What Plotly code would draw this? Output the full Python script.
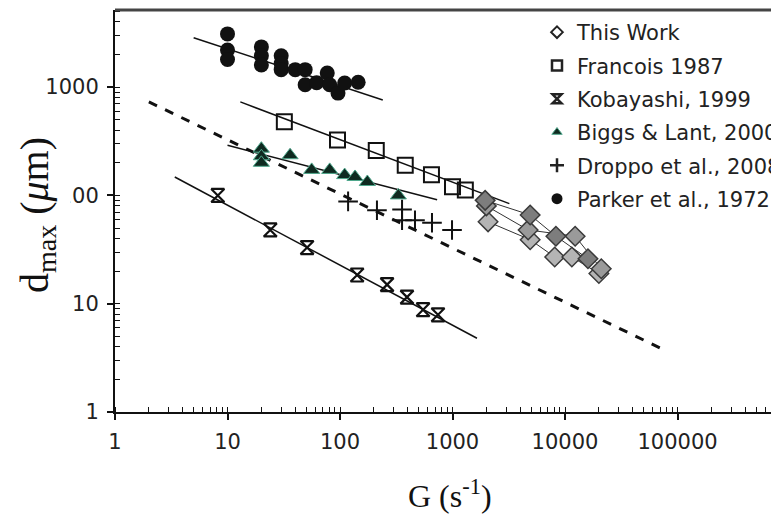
import plotly.graph_objects as go

# ---------------- data ----------------
# This Work (three runs)
work1_G = [1950, 4900, 8300, 16000]
work1_d = [90, 66, 42, 26]
work2_G = [2000, 4700, 12300, 21000]
work2_d = [80, 48, 42, 21]
work3_G = [2070, 4900, 8100, 11500, 20000]
work3_d = [57, 39, 27, 27, 19]

# Francois 1987
francois_G = [32, 95, 210, 380, 650, 1000, 1300]
francois_d = [480, 325, 260, 190, 155, 120, 112]
francois_fit_G = [13, 3200]
francois_fit_d = [730, 84]

# Kobayashi, 1999
koba_G = [8.2, 24, 51, 142, 262, 394, 547, 743]
koba_d = [100, 48, 33, 18.4, 15, 11.5, 8.8, 7.9]
koba_fit_G = [3.4, 1650]
koba_fit_d = [148, 4.8]

# Biggs & Lant, 2000
biggs_G = [20, 20, 20, 36, 56, 81, 110, 136, 175, 330]
biggs_d = [270, 230, 200, 235, 172, 172, 154, 148, 133, 100]
biggs_fit_G = [10, 730]
biggs_fit_d = [290, 91]

# Droppo et al., 2008
droppo_G = [118, 213, 356, 356, 464, 657, 990]
droppo_d = [88, 73, 74, 59, 59, 56, 48]

# Parker et al., 1972
parker_G = [10, 10, 10, 20, 20, 20, 30, 30, 30, 40, 49, 49, 62, 77, 81, 96, 110, 145]
parker_d = [3100, 2200, 1800, 2350, 1950, 1600, 1950, 1650, 1450, 1450, 1450, 1050,
            1100, 1350, 1050, 880, 1090, 1110]
parker_fit_G = [5, 240]
parker_fit_d = [2860, 760]

# general (dashed) trend line
trend_G = [2, 80000]
trend_d = [730, 3.65]

legend_names = ["This Work", "Francois 1987", "Kobayashi, 1999",
                "Biggs & Lant, 2000", "Droppo et al., 2008", "Parker et al., 1972"]

x_tickvals = [1, 10, 100, 1000, 10000, 100000]
y_tickvals = [1, 10, 100, 1000]

# ---------------- layout geometry (page pixels) ----------------
BODY = 8                 # default page margin around the plot div
PLOT_L, PLOT_R = 115, 779
PLOT_T, PLOT_B = 10, 412
FIG_W, FIG_H = 787, 508
ml = PLOT_L - BODY
mt = PLOT_T - BODY
mr = FIG_W - (PLOT_R - BODY)
mb = FIG_H - (PLOT_B - BODY)
PW = PLOT_R - PLOT_L
PH = PLOT_B - PLOT_T


def px(xp):
    return (xp - PLOT_L) / PW


def py(yp):
    return (PLOT_B - yp) / PH


# ---------------- figure ----------------
fig = go.Figure()
BLACK = "#111111"


def fit_line(xs, ys, dash="solid", width=1.5):
    fig.add_trace(go.Scatter(x=xs, y=ys, mode="lines", showlegend=False,
                             line=dict(color=BLACK, width=width, dash=dash),
                             hoverinfo="skip"))


fit_line(trend_G, trend_d, dash="dash", width=3)
fit_line(parker_fit_G, parker_fit_d)
fit_line(francois_fit_G, francois_fit_d)
fit_line(koba_fit_G, koba_fit_d)
fit_line(biggs_fit_G, biggs_fit_d)

for xs, ys, fill in [(work3_G, work3_d, "#b4b4b4"),
                     (work2_G, work2_d, "#9a9a9a"),
                     (work1_G, work1_d, "#7d7d7d")]:
    fig.add_trace(go.Scatter(x=xs, y=ys, mode="lines+markers", showlegend=False,
                             line=dict(color="#333333", width=1),
                             marker=dict(symbol="diamond", size=15, color=fill,
                                         line=dict(color="#3a3a3a", width=1.5))))

fig.add_trace(go.Scatter(x=francois_G, y=francois_d, mode="markers", showlegend=False,
                         marker=dict(symbol="square-open", size=15, color=BLACK,
                                     line=dict(width=2))))
fig.add_trace(go.Scatter(x=koba_G, y=koba_d, mode="markers", showlegend=False,
                         marker=dict(symbol="hourglass-open", size=13, color=BLACK,
                                     line=dict(width=2.2))))
fig.add_trace(go.Scatter(x=biggs_G, y=biggs_d, mode="markers", showlegend=False,
                         marker=dict(symbol="triangle-up", size=14, color="#0f2a20",
                                     line=dict(color="#4fa88c", width=1))))
fig.add_trace(go.Scatter(x=droppo_G, y=droppo_d, mode="markers", showlegend=False,
                         marker=dict(symbol="cross-thin", size=14, color=BLACK,
                                     line=dict(color=BLACK, width=2))))
fig.add_trace(go.Scatter(x=parker_G, y=parker_d, mode="markers", showlegend=False,
                         marker=dict(symbol="circle", size=15, color=BLACK)))

legend_markers = [
    dict(symbol="diamond-open", size=9, color="#222", line=dict(width=2)),
    dict(symbol="square-open", size=10, color="#222", line=dict(width=2.5)),
    dict(symbol="hourglass-open", size=9, color="#222", line=dict(width=2.5)),
    dict(symbol="triangle-up", size=9, color="#0f2a20", line=dict(color="#4fa88c", width=1)),
    dict(symbol="cross-thin", size=10, color="#222", line=dict(color="#222", width=2.5)),
    dict(symbol="circle", size=11, color="#111"),
]
for i, (name, mk) in enumerate(zip(legend_names, legend_markers)):
    fig.add_trace(go.Scatter(x=[None], y=[None], mode="markers", name=name,
                             legendgroup=f"g{i}", marker=mk))

TICKFONT = dict(family="DejaVu Sans", size=21, color="#222222")
axis_common = dict(type="log", tickmode="array", showgrid=False, zeroline=False,
                   showline=True, linecolor=BLACK, linewidth=2, ticks="outside",
                   ticklen=6, tickwidth=1.5, tickcolor=BLACK, tickfont=TICKFONT,
                   ticklabelstandoff=4,
                   minor=dict(ticks="inside", ticklen=5, tickwidth=1, tickcolor=BLACK,
                              dtick="D1", showgrid=False))
fig.update_xaxes(range=[0, 5.902], tickvals=x_tickvals,
                 ticktext=[str(v) for v in x_tickvals], **axis_common)
fig.update_yaxes(range=[0, 3.712], tickvals=y_tickvals,
                 ticktext=[str(v) for v in y_tickvals], **axis_common)

fig.add_shape(type="line", xref="paper", yref="paper", x0=0, x1=1, y0=1, y1=1,
              line=dict(color="#444444", width=3))

fig.add_annotation(xref="paper", yref="paper", x=px(450), y=py(494), showarrow=False,
                   text="G (s<sup>-1</sup>)", xanchor="center", yanchor="middle",
                   font=dict(family="Liberation Serif", size=32, color="#111"))
fig.add_annotation(xref="paper", yref="paper", x=px(37), y=py(215), showarrow=False,
                   text="d<sub>max</sub> (<i>μ</i>m)", textangle=-90,
                   xanchor="center", yanchor="middle",
                   font=dict(family="Liberation Serif", size=40, color="#111"),
                   bgcolor="white", borderpad=8)

fig.update_layout(
    width=FIG_W, height=FIG_H,
    margin=dict(l=ml, r=mr, t=mt, b=mb),
    paper_bgcolor="white", plot_bgcolor="white",
    showlegend=True,
    legend=dict(x=px(537), y=0.995, xanchor="left", yanchor="top",
                font=dict(family="DejaVu Sans", size=21, color="#222222"),
                bgcolor="rgba(0,0,0,0)", tracegroupgap=3, itemwidth=30),
)

fig.write_html("out.html")
